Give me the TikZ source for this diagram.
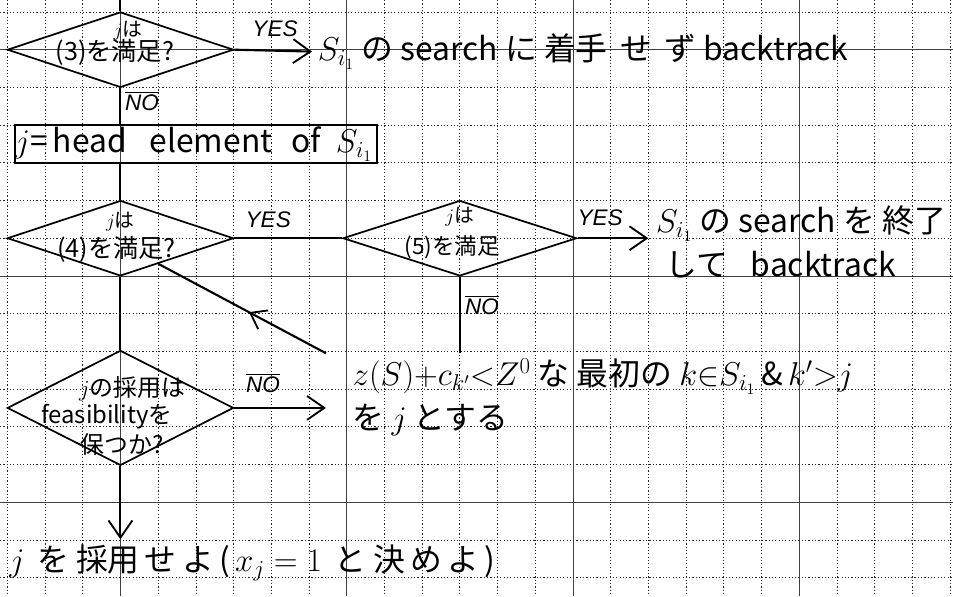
\documentclass[tikz,border=0pt]{standalone}
\usepackage{fontspec}
\setmainfont{Noto Sans CJK JP}
\setsansfont{Liberation Sans}
\usepackage{tikz}
\usetikzlibrary{arrows.meta,positioning,shapes.geometric,decorations.markings}

\tikzset{
    minorline/.style={line width=0.5pt,dash pattern=on 0.9pt off 1.6pt,black!85},
    majorline/.style={line width=0.6pt,black!75},
    flow/.style={line width=1.6pt},
    dia/.style={diamond,draw,line width=1.3pt,inner sep=0pt},
    arr/.style={flow,-{Straight Barb[length=13pt,width=18pt,line width=1.4pt]}},
    ret/.style={flow,postaction={decorate},decoration={markings,mark=at position 0.46 with {\arrow{Straight Barb[length=11pt,width=16pt,line width=1.4pt]}}}},
    yesno/.style={font=\sffamily\itshape\fontsize{17}{17}\selectfont,inner sep=1pt},
    note/.style={font=\fontsize{24}{33}\selectfont,inner sep=0pt,align=left},
    qtext/.style={font=\fontsize{19}{22}\selectfont,inner sep=0pt},
    qsub/.style={font=\fontsize{15}{17}\selectfont,inner sep=0pt},
}

\begin{document}
\begin{tikzpicture}
\useasboundingbox[fill=white] (-0.194cm,0.318cm) rectangle (25.08cm,-15.49cm);
% squared paper
\foreach \x in {0,...,25}
    \draw[minorline] (\x cm,0.318cm) -- (\x cm,-15.49cm);
\foreach \y in {0,...,15}
    \draw[minorline] (-0.194cm,-\y cm) -- (25.08cm,-\y cm);
\foreach \x in {3,9,15,21}
    \draw[majorline] (\x cm,0.318cm) -- (\x cm,-15.49cm);
\foreach \y in {1,7,13}
    \draw[majorline] (-0.194cm,-\y cm) -- (25.08cm,-\y cm);

% test (3)
\coordinate (start) at (3cm,0.318cm);
\node[dia,minimum width=6cm,minimum height=2cm] (q3) at (3cm,-1cm) {};
\node[qsub] (q3a) at (3.2cm,-0.5cm) {$j$は};
\node[qtext] (q3b) at (2.85cm,-1.08cm) {(3)を満足?};
\node[yesno] (y3) at (7.1cm,-0.45cm) {YES};
\node[note,anchor=west,inner xsep=0.15cm] (skip) at (8.08cm,-1.05cm) {$S_{i_1}$ の search に 着手 \,せ \,ず backtrack};
\node[yesno] (n3) at (3.57cm,-2.36cm) {$\overline{\hbox{NO}}$};
\draw[flow] (start) -- (q3.north);
\draw[arr] (q3.east) -- (skip.west);

\node[draw,line width=1.3pt,minimum height=1cm,text width=9.6cm,inner xsep=0.2cm,inner ysep=0pt,note] (head) at (5cm,-3.5cm) {$j$=\,head\hspace{0.6cm}element\hspace{0.5cm}of\hspace{0.4cm}$S_{i_1}$};
\draw[flow] (q3.south) -- (q3.south |- head.north);

% tests (4) and (5)
\node[dia,minimum width=6cm,minimum height=2cm] (q4) at (3cm,-6cm) {};
\node[qsub] (q4a) at (3cm,-5.55cm) {$j$は};
\node[qtext] (q4b) at (2.9cm,-6.3cm) {(4)を満足?};
\node[yesno] (y4) at (6.92cm,-5.5cm) {YES};
\draw[flow] (head.south -| q4.north) -- (q4.north);

\node[dia,minimum width=6.2cm,minimum height=2cm] (q5) at (12cm,-6cm) {};
\node[qsub] (q5a) at (12cm,-5.44cm) {$j$は};
\node[qtext,font=\fontsize{17}{20}\selectfont] (q5b) at (11.8cm,-6.24cm) {(5)を満足};
\node[yesno] (y5) at (15.72cm,-5.45cm) {YES};
\node[yesno] (n5) at (12.59cm,-7.77cm) {$\overline{\hbox{NO}}$};
\draw[flow] (q4.east) -- (q5.west);

\node[note,anchor=west,inner xsep=0.2cm] (done) at (17.0cm,-6.1cm) {$S_{i_1}$ の search を 終了\\\hspace{0.25cm}して\hspace{0.6cm}backtrack};
\draw[arr] (q5.east) -- (q5.east -| done.west);

% next candidate
\node[note,anchor=north west,inner xsep=0.7cm,inner ysep=0.15cm] (upd) at (8.45cm,-9.05cm) {$z(S){+}c_{k'}{<}Z^0$ な 最初の $k{\in}S_{i_1}$\,\&\,$k'{>}j$\\を $j$ とする};
\draw[flow] (q5.south) -- (q5.south |- upd.north);
\draw[ret] (upd.north west) -- (q4.-34);

% feasibility
\node[dia,minimum width=6cm,minimum height=3.05cm] (q6) at (3cm,-10.5cm) {};
\node[qtext,font=\fontsize{18}{21}\selectfont] (q6a) at (3.31cm,-10cm) {$j$の採用は};
\node[qtext,font=\fontsize{18}{21}\selectfont] (q6b) at (2.64cm,-10.72cm) {feasibilityを};
\node[qtext,font=\fontsize{18}{21}\selectfont] (q6c) at (3.04cm,-11.46cm) {保つか?};
\node[yesno] (n6) at (6.78cm,-9.84cm) {$\overline{\hbox{NO}}$};
\draw[flow] (q4.south) -- (q6.north);
\draw[arr] (q6.east) -- (q6.east -| upd.west);

\node[note,anchor=west,inner ysep=0.15cm] (fin) at (0.05cm,-14.62cm) {$j$ \,を 採用\,せ\,よ\,(\,$x_j = 1$ \,と 決\,め\,よ\,)};
\draw[arr] (q6.south) -- (q6.south |- fin.north);
\end{tikzpicture}
\end{document}
